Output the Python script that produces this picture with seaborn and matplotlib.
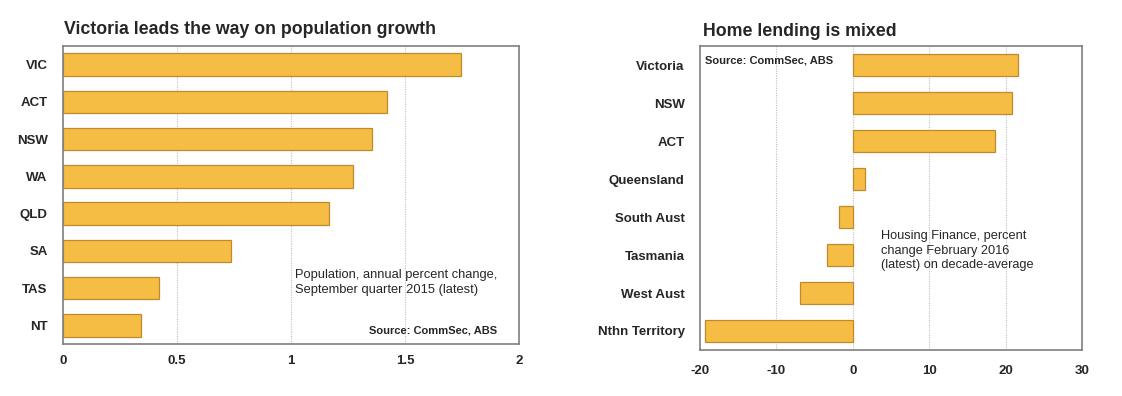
import matplotlib
matplotlib.use("Agg")
import matplotlib.pyplot as plt
import seaborn as sns
import numpy as np

# ---- data ----
pop_states = ["VIC", "ACT", "NSW", "WA", "QLD", "SA", "TAS", "NT"]
pop_growth = [1.745, 1.42, 1.355, 1.27, 1.165, 0.735, 0.42, 0.34]
pop_ticks = [0, 0.5, 1, 1.5, 2]
pop_tick_labels = ["0", "0.5", "1", "1.5", "2"]

lend_states = ["Victoria", "NSW", "ACT", "Queensland", "South Aust",
               "Tasmania", "West Aust", "Nthn Territory"]
lend_change = [21.6, 20.9, 18.6, 1.6, -1.8, -3.4, -6.9, -19.3]
lend_ticks = [-20, -10, 0, 10, 20, 30]
lend_tick_labels = ["-20", "-10", "0", "10", "20", "30"]

title_left = "Victoria leads the way on population growth"
title_right = "Home lending is mixed"
note_left = "Population, annual percent change,\nSeptember quarter 2015 (latest)"
note_right = "Housing Finance, percent\nchange February 2016\n(latest) on decade-average"
source = "Source: CommSec, ABS"

# ---- style ----
sns.set_style("white")
plt.rcParams["font.family"] = ["Liberation Sans", "DejaVu Sans"]

BAR = "#F6BD44"
EDGE = "#C08A2C"
FRAME = "#7F7F7F"

W, H = 1122, 396
fig = plt.figure(figsize=(W / 100, H / 100), dpi=100)
ax1 = fig.add_axes([63 / W, 1 - 344 / H, (519 - 63) / W, (344 - 46) / H])
ax2 = fig.add_axes([700 / W, 1 - 350 / H, (1082 - 700) / W, (350 - 46) / H])


def style(ax, cats, vals, ticks, labels, xlim, xpad):
    sns.barplot(x=vals, y=cats, orient="h", color=BAR, edgecolor=EDGE,
                linewidth=0.9, saturation=1, width=0.6, ax=ax, zorder=3)
    ax.set_xlim(*xlim)
    ax.set_ylim(len(cats) - 0.5, -0.5)
    ax.set_xticks(ticks)
    ax.set_xticklabels(labels, fontsize=9.5, fontweight="bold")
    ax.set_yticks(range(len(cats)))
    ax.set_yticklabels(cats, fontsize=9.5, fontweight="bold")
    ax.set_yticks(np.arange(0.5, len(cats) - 0.5, 1), minor=True)
    ax.tick_params(axis="y", which="major", length=0, pad=11)
    ax.tick_params(axis="y", which="minor", length=4, direction="in",
                   color="#A0A0A0", width=0.8)
    ax.tick_params(axis="x", length=0, pad=xpad)
    ax.set_xlabel("")
    ax.set_ylabel("")
    for t in ticks[1:-1]:
        ax.axvline(t, color="#BDBDBD", linestyle=(0, (1, 1.2)),
                   linewidth=0.8, zorder=1)
    for s in ax.spines.values():
        s.set_visible(True)
        s.set_color(FRAME)
        s.set_linewidth(1.2)
        s.set_zorder(4)


style(ax1, pop_states, pop_growth, pop_ticks, pop_tick_labels, (0, 2), 8)
style(ax2, lend_states, lend_change, lend_ticks, lend_tick_labels, (-20, 30), 11)

fig.text(64 / W, 1 - 30 / H, title_left, fontsize=12.8, fontweight="bold",
         ha="left", va="center")
fig.text(703 / W, 1 - 31 / H, title_right, fontsize=12.8, fontweight="bold",
         ha="left", va="center")

ax1.text(0.509, 0.252, note_left, transform=ax1.transAxes, fontsize=9.3,
         ha="left", va="top", linespacing=1.3)
ax1.text(0.952, 0.045, source, transform=ax1.transAxes, fontsize=8,
         fontweight="bold", ha="right", va="center")
ax2.text(0.014, 0.952, source, transform=ax2.transAxes, fontsize=8,
         fontweight="bold", ha="left", va="center")
ax2.text(0.474, 0.395, note_right, transform=ax2.transAxes, fontsize=9.2,
         ha="left", va="top", linespacing=1.3)

fig.savefig("out.png", dpi=100, facecolor="white")
